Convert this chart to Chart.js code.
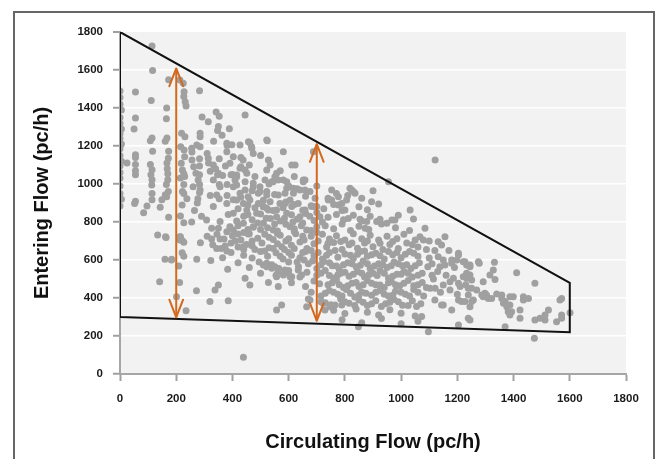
<!DOCTYPE html>
<html>
<head>
<meta charset="utf-8">
<script src="https://cdn.jsdelivr.net/npm/chart.js@4.4.1/dist/chart.umd.min.js"></script>
<style>
  html, body { margin: 0; padding: 0; background: #fff; }
  #stage { position: relative; width: 655px; height: 459px; overflow: hidden; }
  #frame { position: absolute; left: 13px; top: 11px; width: 642px; height: 470px; box-sizing: border-box; border: 2px solid #666; }
  #flowChart { position: absolute; left: 0; top: 0; }
</style>
</head>
<body>
<div id="stage">
  <div id="frame"></div>
  <canvas id="flowChart" width="655" height="459"></canvas>
</div>
<script>
// axis ticks
const circulatingTicks = [0, 200, 400, 600, 800, 1000, 1200, 1400, 1600, 1800];
const enteringTicks = [0, 200, 400, 600, 800, 1000, 1200, 1400, 1600, 1800];

// boundary polygon (circulating, entering)
const boundaryCirc = [0, 1600, 1600, 0, 0];
const boundaryEnter = [1800, 480, 220, 300, 1800];

// double arrows showing the range
const arrowCirc = [200, 700];
const arrowLow = [298, 280];
const arrowHigh = [1608, 1210];

const observedFlows = [
  [0,1490],[0,1455],[0,1420],[5,1390],[0,1350],[0,1320],[5,1290],[0,1265],[0,1240],[5,1210],[0,1185],[0,1150],[5,1120],[0,1095],[0,1060],[0,1030],[0,990],[0,950],[5,920],[0,884],[25,1110],
  [55,1484],[55,1347],[50,1290],[55,1154],[55,1140],[55,1102],[55,1070],[55,1049],[55,909],[52,898],
  [84,849],[96,884],[108,1228],[108,1102],[111,1439],[114,1242],[114,1075],[110,1049],[114,1023],[113,995],[114,950],[114,917],[116,1598],[114,1726],[116,1172],
  [134,732],[141,486],[143,877],[149,917],[161,944],[160,604],[162,723],[161,1225],[164,719],[165,1344],[166,1400],[167,1242],[167,1110],[168,1080],[170,1054],[173,1172],[173,1549],[173,825],[170,1023],[165,997],[172,1135],[172,960],[166,933],[183,600],
  [201,407],[209,568],[212,481],[215,832],[215,1032],[221,889],[213,1547],[225,1530],[221,638],[227,620],[227,796],[228,1486],[227,1461],[232,1433],[235,1410],[219,1267],[231,1249],[216,1196],[228,1179],[230,1144],[218,1109],[222,1074],[227,1054],[230,1039],[227,997],[222,960],[227,950],[238,923],[215,723],[221,702],[227,694],[235,333],
  [256,1168],[255,1188],[273,1205],[285,1249],[285,1267],[285,1196],[256,1126],[262,1091],[270,1056],[278,1021],[260,986],[285,968],[272,438],[273,604],[277,923],[283,1491],[283,1133],[283,1095],[283,1049],[283,997],[283,955],[286,691],[292,1352],[275,900],[265,860],[290,830],[255,800],
  [314,1328],[342,1379],[353,1356],[350,1302],[389,1291],[347,1281],[363,1256],[333,1225],[381,1203],[398,1207],[380,1214],[427,1205],[457,1223],[468,1196],[474,1161],[522,1231],[445,1363],[462,1217],[469,1188],[524,1228],[581,1170],[688,1170],
  [314,1135],[332,1100],[350,1056],[332,1021],[356,986],[344,942],[321,1067],[315,1110],[353,1133],[375,1095],[395,1049],[381,997],[381,940],[403,917],[353,997],[347,1049],[321,940],[353,923],
  [391,1109],[403,1144],[427,1083],[415,1038],[451,1056],[445,1012],[474,1004],[498,986],[403,986],[427,951],[456,933],[492,951],[522,960],[545,1012],[557,1056],[581,1021],[593,977],[617,951],[534,907],[569,898],[605,916],
  [438,1126],[430,1091],[445,1074],[415,1047],[409,1021],[528,1126],[534,1100],[522,1074],[623,1100],[551,1038],[563,1021],[540,1012],[516,1021],[593,1012],[658,1021],[415,995],[445,968],[474,986],[498,960],[522,942],[563,942],[587,951],[616,977],[640,968],[753,968],[753,916],[818,977],[830,960],[611,1100],[652,1021],[676,960],
  [415,916],[439,898],[462,916],[492,898],[510,881],[528,863],[557,863],[587,898],[611,881],[634,898],[658,863],[682,881],
  [332,881],[380,898],[403,846],[451,863],[486,846],[522,872],[557,828],[593,846],[640,828],[688,881],[711,828],[308,811],[356,802],[391,775],[439,793],[474,775],[510,793],[545,758],[605,775],[664,758],[700,775],
  [652,1012],[658,968],[694,925],[700,881],[777,889],[806,916],[895,907],[955,1012],[1121,1126],
  [777,933],[741,916],[789,898],[800,863],[812,819],[824,968],[836,951],[1032,863],[1044,816],[1085,767],[967,811],[978,811],[949,793],[913,802],[878,802],[854,814],[872,767],
  [213,723],[213,705],[326,767],[350,767],[356,711],[326,711],[380,749],[403,758],[420,737],[456,737],[474,772],[439,670],[380,647],[344,660],[374,674],[184,604],[323,597],[383,551],[445,504],[462,468],[338,442],[350,468],[320,381],[385,386],[439,88],
  [510,574],[522,565],[563,539],[557,512],[581,521],[599,530],[611,512],[528,482],[563,460],[557,337],[575,363],[670,395],[664,354],[676,389],[729,337],[747,354],[765,363],[789,363],[723,372],
  [522,583],[540,556],[551,565],[587,547],[605,512],[634,547],[646,521],
  [1067,723],[1079,705],[1132,696],[1144,679],[1156,723],[1204,635],[1132,617],[1150,600],[1138,565],[1156,574],[1180,600],[1221,591],[1233,574],[1221,512],[1233,530],[1174,486],[1150,468],[1174,442],[1121,451],[1103,451],[1150,363],[1180,337],[1204,389],[1215,381],[1239,451],[1239,293],[1204,258],[1073,302],[1097,223],[848,249],
  [1275,591],[1278,583],[1332,588],[1227,591],[1245,574],[1411,533],[1476,477],[1245,521],[1251,495],[1233,504],[1316,521],[1334,498],[1292,486],[1251,451],[1269,442],[1298,425],[1292,407],[1310,398],[1304,416],[1340,421],[1358,398],[1364,372],[1376,354],[1387,407],[1399,407],[1435,389],[1453,398],[1435,407],[1381,328],[1387,310],[1423,293],[1245,354],[1245,284],[1227,381],[1257,389],[1370,249],[1476,284],[1494,293],[1512,284],[1524,337],[1512,310],[1553,275],[1571,293],[1571,310],[1565,389],[1571,398],[1601,323],[1474,188],
  [1204,626],[1198,600],[1180,583],[1328,547],[1245,565],[1186,504],[1210,460],[1204,477],[1239,416],[1251,381],[1287,416],[1322,398],[1358,416],[1370,381],[1387,363],[1393,328],[1423,337],[1144,363],
  [1100,700],[1120,650],[1110,580],[1130,540],[1115,500],[1140,430],[1120,390],[1160,520],[1170,650],[1190,560],[1200,420],[1230,470],
  [310,725],[345,735],[370,710],[400,728],[430,705],[460,738],[490,715],[515,735],[545,708],[570,730],[600,712],[625,738],[655,705],[680,725],[720,735],[745,710],[770,728],[800,705],[830,738],[860,712],[890,730],[920,705],[950,725],[985,712],[1010,735],[1050,705],
  [330,680],[360,660],[395,690],[420,668],[450,682],[480,655],[505,690],[530,665],[560,685],[585,655],[610,678],[640,695],[665,660],[690,685],[735,668],[760,692],[790,655],[815,680],[845,662],[870,690],[900,670],[935,655],[960,682],[990,660],[1020,690],[1060,668],[1090,655],
  [365,612],[395,640],[440,625],[470,610],[500,645],[525,620],[555,638],[580,605],[610,625],[640,612],[660,645],[690,622],[720,605],[745,640],[775,615],[800,632],[830,608],[855,645],[880,620],[910,636],[940,605],[970,628],[1000,612],[1030,645],[1060,620],[1100,610],
  [420,585],[460,560],[495,590],[540,575],[565,555],[600,590],[635,565],[670,580],[700,555],[725,592],[755,570],[780,550],[810,585],[840,565],[865,595],[890,555],[920,580],[950,560],[975,590],[1005,570],[1035,555],[1065,585],[1095,565],
  [500,530],[555,520],[600,545],[640,510],[665,535],[700,520],[730,545],[760,505],[785,530],[815,515],[845,540],[870,510],[900,530],[925,545],[955,505],[985,525],[1010,540],[1040,510],[1075,530],[1110,520],
  [610,480],[660,460],[690,490],[740,470],[770,495],[795,455],[825,478],[850,460],[880,492],[910,470],[940,455],[965,485],[995,465],[1025,492],[1060,470],[1090,455],
  [680,430],[715,410],[745,440],[775,420],[805,445],[835,405],[860,432],[895,415],[925,440],[955,410],[980,435],[1015,420],[1045,445],[1080,410],
  [715,380],[750,365],[785,395],[815,372],[850,390],[880,360],[910,385],[945,370],[975,392],[1005,362],[1040,385],[1070,370],
  [760,335],[800,318],[840,342],[880,325],[920,310],[960,338],[1000,320],[1050,305],
  [790,285],[860,270],[930,292],[1000,265],[1060,278],
  [420,780],[455,760],[490,795],[525,770],[560,752],[590,788],[620,765],[650,795],[680,755],[730,780],[760,765],[790,790],[820,755],[850,778],[885,760],[930,790],[980,770],[1030,755],
  [440,830],[470,812],[500,842],[535,818],[570,805],[610,838],[630,815],[660,845],[690,808],[740,825],[770,840],[795,812],[830,835],[860,805],[890,830],[925,815],[990,835],
  [420,870],[455,890],[510,880],[545,860],[580,875],[620,892],[650,862],[680,885],[725,870],[760,892],[790,860],[850,880],[880,865],[920,895],
  [430,930],[470,965],[510,915],[550,945],[590,905],[630,975],[660,935],[700,990],[740,925],[770,950],[810,940],[860,925],[900,965],
  [310,1160],[340,1080],[365,1045],[380,1170],[400,1050],[430,1140],[460,1100],[480,1040],[500,1150],[530,1000],[570,1070],[600,990],[620,1040],
  [705,700],[740,688],[785,698],[825,690],[880,700],[925,688],[970,698],[1040,680],
  [705,640],[735,625],[765,650],[820,625],[845,630],[870,648],[895,628],[925,622],[955,645],[985,640],[1015,630],[1045,635],
  [715,575],[745,585],[770,568],[795,575],[825,580],[855,572],[880,580],[905,568],[935,575],[965,570],[990,580],[1020,575],[1050,570],
  [715,530],[745,518],[775,522],[800,535],[830,525],[860,530],[885,522],[915,518],[940,530],[970,515],[1000,525],[1025,530],[1060,520],
  [710,475],[755,480],[780,470],[810,465],[840,482],[865,470],[895,478],[925,468],[955,480],[980,470],[1010,478],[1045,465],[1075,482],
  [730,425],[760,430],[790,410],[820,425],[850,415],[875,425],[910,430],[940,420],[970,415],[1000,430],[1030,410],[1060,430],
  [730,375],[800,380],[835,360],[865,378],[895,370],[930,355],[960,378],[990,380],[1025,360],[1055,355],
  [410,700],[440,745],[470,700],[500,760],[530,720],[560,740],[590,700],[620,750],[650,725],[700,745],[385,840],[415,805],[455,840],[480,875],[520,820],[550,790],[585,820],[615,800],[645,780],[675,830],[700,850],[720,800],
  [440,655],[470,675],[515,648],[545,660],[575,670],[620,660],[650,640],[680,650],[600,640],[570,620],[630,590],[655,600],[685,595]
];

const FONT = "'Liberation Sans', Arial, sans-serif";

const plotBackground = {
  id: "plotBackground",
  beforeDraw(chart) {
    const { ctx, chartArea } = chart;
    ctx.save();
    ctx.fillStyle = "#f2f2f2";
    ctx.fillRect(chartArea.left, chartArea.top, chartArea.right - chartArea.left, chartArea.bottom - chartArea.top);
    ctx.restore();
  },
};

function drawHead(ctx, tip, from) {
  const ang = Math.atan2(tip.y - from.y, tip.x - from.x);
  const len = 19;
  const spread = 0.37;
  ctx.beginPath();
  ctx.moveTo(tip.x - len * Math.cos(ang - spread), tip.y - len * Math.sin(ang - spread));
  ctx.lineTo(tip.x, tip.y);
  ctx.lineTo(tip.x - len * Math.cos(ang + spread), tip.y - len * Math.sin(ang + spread));
  ctx.stroke();
}

const arrowHeads = {
  id: "arrowHeads",
  afterDatasetsDraw(chart) {
    const ctx = chart.ctx;
    chart.data.datasets.forEach((ds, i) => {
      if (!ds.isArrow) return;
      const pts = chart.getDatasetMeta(i).data;
      ctx.save();
      ctx.strokeStyle = ds.borderColor;
      ctx.lineWidth = ds.borderWidth;
      ctx.lineCap = "round";
      ctx.lineJoin = "round";
      drawHead(ctx, pts[0], pts[1]);
      drawHead(ctx, pts[1], pts[0]);
      ctx.restore();
    });
  },
};

const datasets = [
  {
    type: "scatter",
    label: "Observations",
    data: observedFlows.map(([c, e]) => ({ x: c, y: e })),
    backgroundColor: "#a0a0a0",
    borderWidth: 0,
    pointRadius: 3.5,
    order: 3,
  },
  {
    type: "line",
    label: "Boundary",
    data: boundaryCirc.map((c, i) => ({ x: c, y: boundaryEnter[i] })),
    borderColor: "#111111",
    borderWidth: 2,
    pointRadius: 0,
    fill: false,
    tension: 0,
    order: 2,
  },
];

arrowCirc.forEach((c, i) => {
  datasets.push({
    type: "line",
    label: "Range " + c,
    data: [{ x: c, y: arrowLow[i] }, { x: c, y: arrowHigh[i] }],
    borderColor: "#d2691e",
    borderWidth: 2,
    pointRadius: 0,
    fill: false,
    isArrow: true,
    order: 1,
  });
});

const tickFont = { family: FONT, size: 11.5, weight: "bold" };
const titleFont = { family: FONT, size: 20, weight: "bold" };

new Chart(document.getElementById("flowChart"), {
  type: "scatter",
  data: { datasets },
  options: {
    responsive: false,
    devicePixelRatio: 1,
    animation: false,
    layout: { padding: { top: 32, right: 29, left: 0, bottom: 0 } },
    plugins: { legend: { display: false }, tooltip: { enabled: false } },
    scales: {
      x: {
        type: "linear",
        min: 0,
        max: 1800,
        afterFit: (scale) => { scale.height = 85; },
        afterBuildTicks: (scale) => { scale.ticks = circulatingTicks.map((v) => ({ value: v })); },
        ticks: { padding: 11, color: "#1a1a1a", font: tickFont, callback: (v) => String(v) },
        grid: { drawOnChartArea: false, drawTicks: true, tickLength: 7, tickColor: "#a0a0a0", tickWidth: 2 },
        border: { color: "#a6a6a6", width: 2 },
        title: { display: true, text: "Circulating Flow (pc/h)", color: "#111", font: titleFont, padding: { top: 0, bottom: 5 } },
      },
      y: {
        type: "linear",
        min: 0,
        max: 1800,
        afterFit: (scale) => { scale.width = 120; },
        afterBuildTicks: (scale) => { scale.ticks = enteringTicks.map((v) => ({ value: v })); },
        ticks: { padding: 10, color: "#1a1a1a", font: tickFont, callback: (v) => String(v) },
        grid: {
          color: "#ffffff",
          lineWidth: (c) => (c.tick && c.tick.value === 1800 ? 0 : 1.5),
          tickLength: 7,
          tickColor: "#a0a0a0",
          tickWidth: 2,
        },
        border: { color: "#a6a6a6", width: 2 },
        title: { display: true, text: "Entering Flow (pc/h)", color: "#111", font: titleFont, padding: { top: 30, bottom: 0 } },
      },
    },
  },
  plugins: [plotBackground, arrowHeads],
});
</script>
</body>
</html>
